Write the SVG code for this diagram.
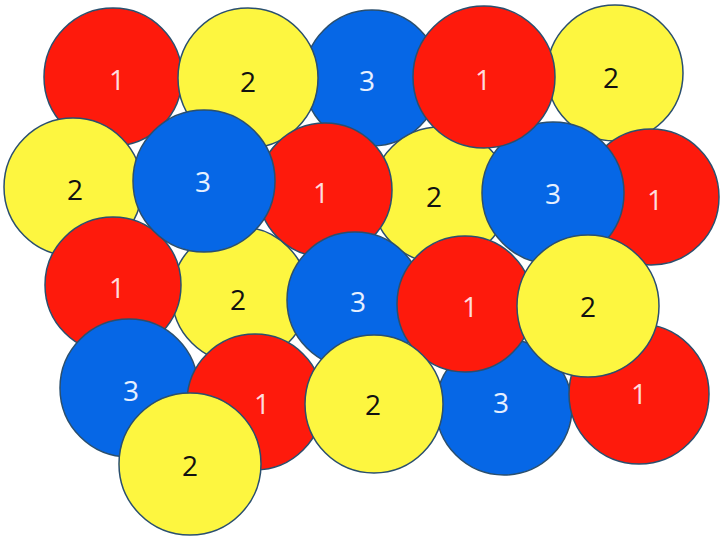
<svg xmlns="http://www.w3.org/2000/svg" width="720" height="537" viewBox="0 0 720 537">
<style>
circle{stroke:#2a4f6e;stroke-width:1.5}
.r circle{fill:#fe1a0c}
.y circle{fill:#fdf640}
.b circle{fill:#0667e6}
text{font-family:"Open Sans","Liberation Sans",sans-serif;font-size:28px;text-anchor:middle}
.r text{fill:#ffdcdc}
.y text{fill:#111}
.b text{fill:#e6f0ff}
</style>
<rect width="720" height="537" fill="#fff"/>
<g id="y-r3a" class="y"><circle cx="240" cy="295" r="68"/><text x="238" y="310">2</text></g>
<g id="r-r1a" class="r"><circle cx="113" cy="77" r="69"/><text x="117" y="90">1</text></g>
<g id="b-r1" class="b"><circle cx="372" cy="78" r="68"/><text x="367" y="91">3</text></g>
<g id="y-r1a" class="y"><circle cx="248" cy="78" r="70"/><text x="248" y="92">2</text></g>
<g id="y-r1b" class="y"><circle cx="615" cy="73" r="68"/><text x="611" y="88">2</text></g>
<g id="y-r2a" class="y"><circle cx="73" cy="187" r="69"/><text x="75" y="200">2</text></g>
<g id="y-r2b" class="y"><circle cx="440" cy="195" r="68"/><text x="434" y="207">2</text></g>
<g id="r-r3a" class="r"><circle cx="113" cy="285" r="68"/><text x="117" y="298">1</text></g>
<g id="r-r2a" class="r"><circle cx="325" cy="190" r="67"/><text x="321" y="203">1</text></g>
<g id="r-r2b" class="r"><circle cx="651" cy="197" r="68"/><text x="655" y="210">1</text></g>
<g id="b-r2a" class="b"><circle cx="204" cy="181" r="71"/><text x="203" y="192">3</text></g>
<g id="b-r2b" class="b"><circle cx="553" cy="193" r="71"/><text x="553" y="204">3</text></g>
<g id="r-r1b" class="r"><circle cx="484" cy="77" r="71"/><text x="483" y="90">1</text></g>
<g id="b-r3" class="b"><circle cx="355" cy="300" r="68"/><text x="358" y="312">3</text></g>
<g id="b-r4b" class="b"><circle cx="504" cy="407" r="68"/><text x="501" y="413">3</text></g>
<g id="r-r3b" class="r"><circle cx="465" cy="304" r="68"/><text x="470" y="317">1</text></g>
<g id="r-r4b" class="r"><circle cx="639" cy="394" r="70"/><text x="639" y="404">1</text></g>
<g id="y-r3b" class="y"><circle cx="588" cy="306" r="71"/><text x="588" y="317">2</text></g>
<g id="b-r4a" class="b"><circle cx="129" cy="388" r="69"/><text x="131" y="401">3</text></g>
<g id="r-r4a" class="r"><circle cx="255" cy="402" r="68"/><text x="262" y="414">1</text></g>
<g id="y-r4" class="y"><circle cx="374" cy="404" r="69"/><text x="373" y="415">2</text></g>
<g id="y-r5" class="y"><circle cx="190" cy="464" r="71"/><text x="190" y="476">2</text></g>
<g id="connectors"/>
</svg>
